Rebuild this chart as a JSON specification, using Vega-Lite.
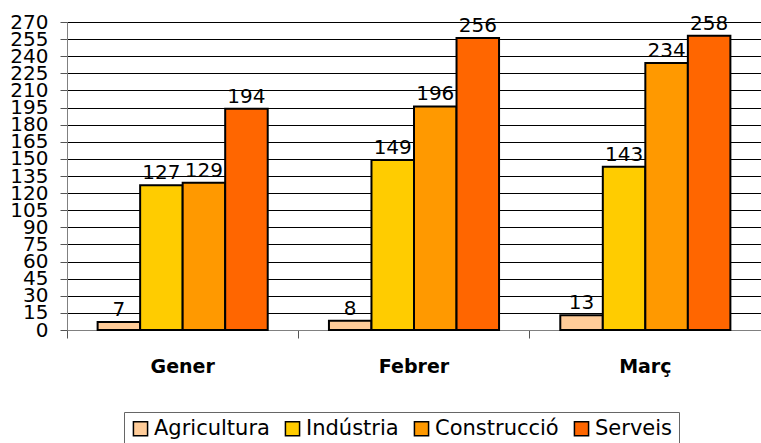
{
  "$schema": "https://vega.github.io/schema/vega-lite/v6.json",
  "width": 694,
  "height": 308,
  "autosize": {"type": "none"},
  "padding": {"left": 67, "top": 22, "right": 0, "bottom": 113},
  "background": "white",
  "config": {"font": "DejaVu Sans", "view": {"stroke": null}},
  "data": {
    "values": [
      {"mes": "Gener", "sector": "Agricultura", "valor": 7},
      {"mes": "Gener", "sector": "Indústria", "valor": 127},
      {"mes": "Gener", "sector": "Construcció", "valor": 129},
      {"mes": "Gener", "sector": "Serveis", "valor": 194},
      {"mes": "Febrer", "sector": "Agricultura", "valor": 8},
      {"mes": "Febrer", "sector": "Indústria", "valor": 149},
      {"mes": "Febrer", "sector": "Construcció", "valor": 196},
      {"mes": "Febrer", "sector": "Serveis", "valor": 256},
      {"mes": "Març", "sector": "Agricultura", "valor": 13},
      {"mes": "Març", "sector": "Indústria", "valor": 143},
      {"mes": "Març", "sector": "Construcció", "valor": 234},
      {"mes": "Març", "sector": "Serveis", "valor": 258}
    ]
  },
  "encoding": {
    "x": {
      "field": "mes",
      "type": "nominal",
      "sort": ["Gener", "Febrer", "Març"],
      "scale": {"paddingInner": 0, "paddingOuter": 0},
      "axis": {
        "title": null,
        "labelAngle": 0,
        "bandPosition": 0,
        "labelFontWeight": "bold",
        "labelFontSize": 19,
        "labelColor": "black",
        "labelPadding": 19,
        "tickSize": 8,
        "tickColor": "#555555",
        "domainColor": "#808080",
        "grid": false
      }
    },
    "xOffset": {
      "field": "sector",
      "sort": ["Agricultura", "Indústria", "Construcció", "Serveis"],
      "scale": {"paddingInner": 0, "paddingOuter": 0.72}
    },
    "y": {
      "field": "valor",
      "type": "quantitative",
      "scale": {"domain": [0, 270], "nice": false},
      "axis": {
        "title": null,
        "values": [0, 15, 30, 45, 60, 75, 90, 105, 120, 135, 150, 165, 180, 195, 210, 225, 240, 255, 270],
        "labelOverlap": false,
        "labelFontSize": 20,
        "labelColor": "black",
        "labelPadding": 12,
        "tickSize": 7,
        "tickColor": "#555555",
        "domainColor": "#808080",
        "gridColor": "#000000",
        "gridOpacity": 1
      }
    }
  },
  "layer": [
    {
      "mark": {"type": "bar", "stroke": "black", "strokeWidth": 2},
      "encoding": {
        "color": {
          "field": "sector",
          "type": "nominal",
          "sort": ["Agricultura", "Indústria", "Construcció", "Serveis"],
          "scale": {
            "domain": ["Agricultura", "Indústria", "Construcció", "Serveis"],
            "range": ["#FFCC99", "#FFCC00", "#FF9900", "#FF6600"]
          },
          "legend": {
            "title": null,
            "orient": "none",
            "legendX": 57,
            "legendY": 390,
            "direction": "horizontal",
            "symbolType": "square",
            "symbolSize": 200,
            "symbolStrokeColor": "black",
            "symbolStrokeWidth": 1.5,
            "symbolOpacity": 1,
            "labelFontSize": 21,
            "labelColor": "black",
            "labelOffset": 3,
            "columnPadding": 12,
            "padding": 6,
            "strokeColor": "#666666",
            "labelLimit": 300
          }
        }
      }
    },
    {
      "mark": {"type": "text", "baseline": "alphabetic", "dy": -6, "fontSize": 20, "color": "black"},
      "encoding": {"text": {"field": "valor", "type": "quantitative"}}
    }
  ]
}
